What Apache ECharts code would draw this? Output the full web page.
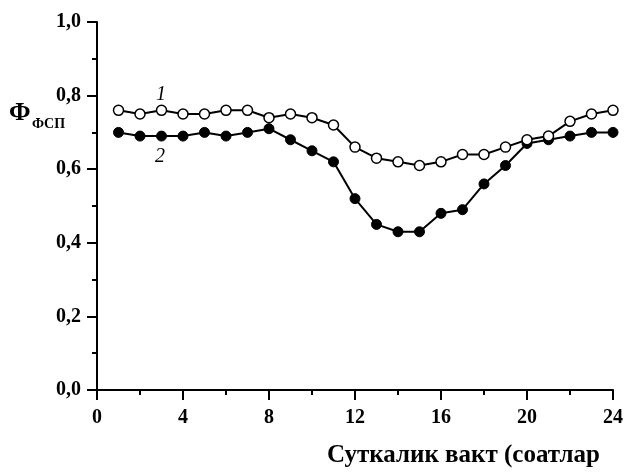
<!DOCTYPE html>
<html><head><meta charset="utf-8">
<script src="https://cdn.jsdelivr.net/npm/echarts@6/dist/echarts.min.js"></script>
<style>html,body{margin:0;padding:0;background:#fff}#c{width:629px;height:472px}</style>
</head><body><div id="c"></div>
<script>
const hours = [1,2,3,4,5,6,7,8,9,10,11,12,13,14,15,16,17,18,19,20,21,22,23,24];
const series1 = [0.76,0.75,0.76,0.75,0.75,0.76,0.76,0.74,0.75,0.74,0.72,0.66,0.63,0.62,0.61,0.62,0.64,0.64,0.66,0.68,0.69,0.73,0.75,0.76];
const series2 = [0.70,0.69,0.69,0.69,0.70,0.69,0.70,0.71,0.68,0.65,0.62,0.52,0.45,0.43,0.43,0.48,0.49,0.56,0.61,0.67,0.68,0.69,0.70,0.70];
const xTicks = [0,4,8,12,16,20,24];
const yTicks = ['0,0','0,2','0,4','0,6','0,8','1,0'];
const xTitle = 'Суткалик вакт (соатлар';
const FONT = '"Liberation Serif", "Times New Roman", serif';

const chart = echarts.init(document.getElementById('c'), null, {renderer:'canvas'});
const line = {show:true,lineStyle:{color:'#000',width:2}};
const tick = {show:true,inside:false,length:10,lineStyle:{color:'#000',width:2}};
const minor = {show:true,splitNumber:2,length:5,lineStyle:{color:'#000',width:2}};
chart.setOption({
  animation:false,
  backgroundColor:'#fff',
  grid:{left:97,right:16,top:22,bottom:82,containLabel:false},
  xAxis:{type:'value',min:0,max:24,interval:4,
    axisLine:line,axisTick:tick,minorTick:minor,splitLine:{show:false},
    axisLabel:{color:'#000',fontFamily:FONT,fontWeight:'bold',fontSize:20,margin:18,
      formatter:v=>xTicks.includes(v)?String(v):''}},
  yAxis:{type:'value',min:0,max:1,interval:0.2,
    axisLine:line,axisTick:tick,minorTick:minor,splitLine:{show:false},
    axisLabel:{color:'#000',fontFamily:FONT,fontWeight:'bold',fontSize:20,margin:16,
      formatter:v=>yTicks[Math.round(v*5)]}},
  series:[
    {type:'line',data:hours.map((h,i)=>[h,series2[i]]),symbol:'circle',symbolSize:10,
      lineStyle:{color:'#000',width:2},itemStyle:{color:'#000',borderColor:'#000',borderWidth:1}},
    {type:'line',data:hours.map((h,i)=>[h,series1[i]]),symbol:'circle',symbolSize:10,
      lineStyle:{color:'#000',width:2},itemStyle:{color:'#fff',borderColor:'#000',borderWidth:1.5}}
  ],
  graphic:[
    {type:'text',left:9,top:100,style:{text:'Φ',font:'bold 26px '+FONT,fill:'#000'}},
    {type:'text',left:32,top:117,style:{text:'ФСП',font:'bold 14px '+FONT,fill:'#000'}},
    {type:'text',left:156,top:85,style:{text:'1',font:'italic 20px '+FONT,fill:'#000'}},
    {type:'text',left:155,top:147,style:{text:'2',font:'italic 20px '+FONT,fill:'#000'}},
    {type:'text',left:327,top:443,style:{text:xTitle,font:'bold 25px '+FONT,fill:'#000'}}
  ]
});
</script></body></html>
